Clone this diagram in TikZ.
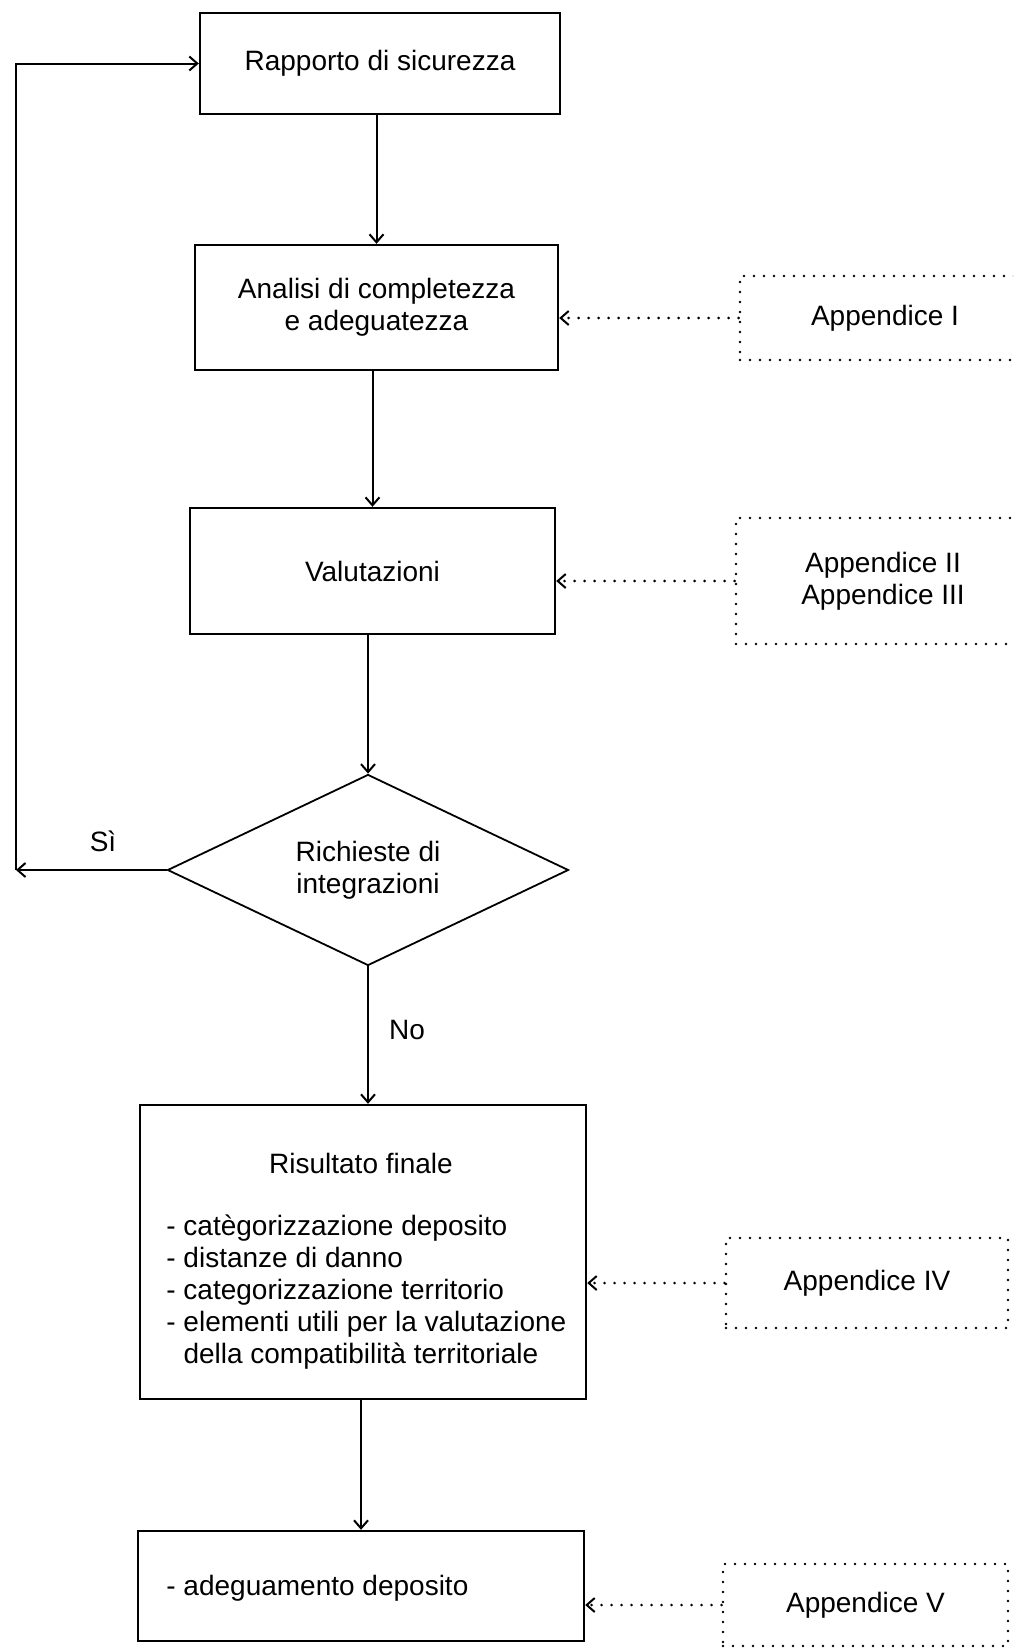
\documentclass[tikz,border=0pt]{standalone}
\usepackage{fontspec}
\setmainfont{Liberation Sans}
\usetikzlibrary{shapes.geometric,arrows.meta}
\begin{document}
\begin{tikzpicture}[x=0.5pt,y=-0.5pt,
  every node/.style={font=\fontsize{14}{16}\selectfont},
  solidbox/.style={draw, line width=1.2pt, rectangle, inner sep=0pt, align=center},
  appbox/.style={draw, line width=1.4pt, dash pattern=on 0pt off 5pt, line cap=round, rectangle, inner sep=0pt, align=center},
  flow/.style={line width=1pt, -{Straight Barb[length=4pt,width=7pt]}},
  refarrow/.style={line width=1.4pt, dash pattern=on 0pt off 5pt, line cap=round, -{Straight Barb[length=4pt,width=7pt,line width=1pt,line cap=butt]}}]
\clip (0,0) rectangle (1013,1649);
\fill[white] (0,0) rectangle (1013,1649);

% main boxes
\node[solidbox, minimum width=180pt, minimum height=50.5pt] (rap) at (380,63.5) {Rapporto di sicurezza};
\node[solidbox, minimum width=181.5pt, minimum height=62.5pt] (ana) at (376.5,307.5) {Analisi di completezza\\e adeguatezza};
\node[solidbox, minimum width=182.5pt, minimum height=63pt] (val) at (372.5,571) {Valutazioni};
\node[diamond, draw, line width=0.9pt, aspect=2.1, minimum width=200.5pt, minimum height=95.5pt, inner sep=0pt, align=center] (ric) at (368,870) {Richieste di\\integrazioni};
\node[solidbox, minimum width=223pt, minimum height=147pt] (ris) at (363,1252) {};
\node (ristit) at (361,1163) {Risultato finale};
\node[anchor=west, align=left, inner sep=0pt] (rislist) at (166,1292) {- catègorizzazione deposito\\- distanze di danno\\- categorizzazione territorio\\- elementi utili per la valutazione\\\hphantom{- }della compatibilità territoriale};
\node[solidbox, minimum width=223pt, minimum height=55pt] (ade) at (361,1586) {};
\node[anchor=west, inner sep=0pt] (adetxt) at (166,1588) {- adeguamento deposito};

% appendix boxes
\node[appbox, minimum width=145pt, minimum height=42pt] (a1) at (885,318) {Appendice I};
\node[appbox, minimum width=147pt, minimum height=63pt] (a2) at (883,581) {Appendice II\\Appendice III};
\node[appbox, minimum width=141pt, minimum height=45pt] (a4) at (867,1283) {Appendice IV};
\node[appbox, minimum width=142.5pt, minimum height=41pt] (a5) at (865.5,1605) {Appendice V};

% flow connectors
\draw[flow] (ana.north |- rap.south) -- (ana.north);
\draw[flow] (val.north |- ana.south) -- (val.north);
\draw[flow] (ric.north |- val.south) -- (ric.north);
\draw[flow] (ric.south) -- (ric.south |- ris.north);
\draw[flow] (ade.north |- ris.south) -- (ade.north);

% loop back
\coordinate (cor) at (16,870);
\draw[flow] (ric.west) -- (cor);
\draw[flow] (cor) |- (rap.west);
\node (si) at (103,841) {Sì};
\node (no) at (407,1030) {No};

% appendix references
\draw[refarrow] (a1.west) -- (a1.west -| ana.east);
\draw[refarrow] (a2.west) -- (a2.west -| val.east);
\draw[refarrow] (a4.west) -- (a4.west -| ris.east);
\draw[refarrow] (a5.west) -- (a5.west -| ade.east);
\end{tikzpicture}
\end{document}
